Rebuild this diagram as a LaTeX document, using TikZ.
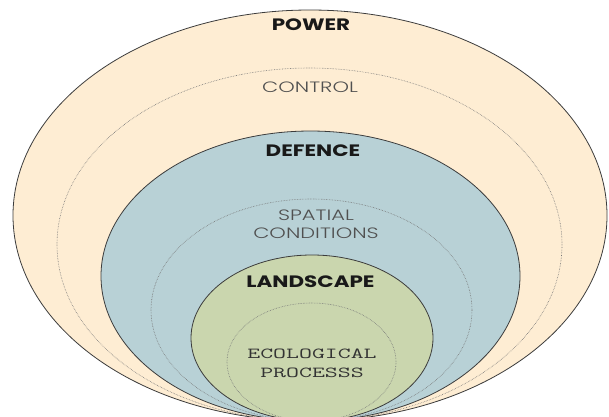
\documentclass[tikz,border=0pt]{standalone}
\usepackage{fontspec}
\setmainfont{Poppins}
\newfontfamily\thinfont{Poppins Light}
\usetikzlibrary{shapes.geometric}
\definecolor{powerfill}{HTML}{FEEDD3}
\definecolor{defencefill}{HTML}{B8D1D6}
\definecolor{landfill}{HTML}{CAD6AE}
\definecolor{rim}{HTML}{3C3C3C}
\definecolor{dotline}{HTML}{777777}
\definecolor{softtext}{HTML}{505050}
\tikzset{
  ring/.style={ellipse, inner sep=0pt, draw=rim, line width=0.8pt},
  subring/.style={ellipse, inner sep=0pt, draw=dotline, line width=0.6pt, densely dotted},
  headline/.style={font=\bfseries\fontsize{16.5}{20}\selectfont, text=black!90, inner sep=0pt, xscale=1.3},
  subline/.style={font=\thinfont\fontsize{15}{17.5}\selectfont, text=softtext, inner sep=0pt, align=center, xscale=1.4},
  monoline/.style={font=\ttfamily\fontsize{15.3}{18.5}\selectfont, text=black!80, inner sep=0pt, align=center, xscale=1.64}
}
\begin{document}
\begin{tikzpicture}[x=1pt, y=-1pt]
  \useasboundingbox (0,0) rectangle (609,416);
  \begin{scope}
    \clip (0,0) rectangle (609,416);
    % nested layers, all touching near the bottom
    \node[ring, fill=powerfill, minimum width=594pt, minimum height=411pt] (power) at (310,215.5) {};
    \node[subring, minimum width=505pt, minimum height=353pt] (control) at (309.5,244.5) {};
    \node[ring, fill=defencefill, minimum width=419pt, minimum height=290pt] (defence) at (310.5,276) {};
    \node[subring, minimum width=321pt, minimum height=222pt] (spatial) at (311.5,310) {};
    \node[ring, fill=landfill, minimum width=242pt, minimum height=166pt] (landscape) at (312,338) {};
    \node[subring, minimum width=169pt, minimum height=118pt] (ecology) at (311.5,362) {};
  \end{scope}
  % labels
  \node[headline] (powerlabel) at (311,25) {POWER};
  \node[subline] (controllabel) at (310,87) {CONTROL};
  \node[headline] (defencelabel) at (313,151) {DEFENCE};
  \node[subline] (spatiallabel) at (316,224) {SPATIAL\\CONDITIONS};
  \node[headline] (landscapelabel) at (310.5,282) {LANDSCAPE};
  \node[monoline] (ecologylabel) at (312,363.5) {ECOLOGICAL\\PROCESSS};
\end{tikzpicture}
\end{document}
